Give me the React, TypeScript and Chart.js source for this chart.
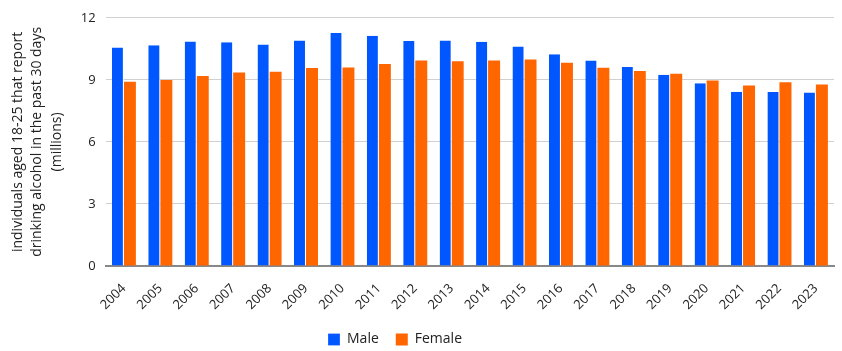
import React, { useEffect, useRef } from "react";
import { Chart, registerables } from "chart.js";

Chart.register(...registerables);

const years = ["2004","2005","2006","2007","2008","2009","2010","2011","2012","2013","2014","2015","2016","2017","2018","2019","2020","2021","2022","2023"];
const male = [10.56,10.67,10.85,10.82,10.71,10.9,11.26,11.13,10.88,10.9,10.84,10.61,10.24,9.94,9.62,9.25,8.83,8.42,8.41,8.39];
const female = [8.91,8.99,9.18,9.36,9.39,9.57,9.6,9.77,9.93,9.9,9.94,9.98,9.83,9.59,9.43,9.3,8.97,8.73,8.88,8.78];
const yTicks = [0, 3, 6, 9, 12];
const yTitle = ["individuals aged 18-25 that report", "drinking alcohol in the past 30 days", "(millions)"];

const FONT = "'Open Sans', 'DejaVu Sans', sans-serif";

const shiftLegend = {
  id: "shiftLegend",
  afterLayout(chart: any) {
    const l = chart.legend;
    if (l) {
      const h = l.bottom - l.top;
      l.left -= 28;
      l.right -= 28;
      l.top = 336 - h / 2;
      l.bottom = l.top + h;
    }
  },
};

export default function App() {
  const ref = useRef<HTMLCanvasElement | null>(null);
  useEffect(() => {
    if (!ref.current) return;
    const chart = new Chart(ref.current, {
      type: "bar",
      data: {
        labels: years,
        datasets: [
          { label: "Male", data: male, backgroundColor: "#0057ff", borderColor: "#ffffff", borderWidth: { left: 0, right: 1, top: 0, bottom: 0 } as any, borderSkipped: false as any },
          { label: "Female", data: female, backgroundColor: "#ff6600", borderColor: "#ffffff", borderWidth: 0 },
        ],
      },
      options: {
        animation: false,
        responsive: false,
        maintainAspectRatio: false,
        layout: { padding: { left: 8, right: 4, top: 5, bottom: -18 } },
        datasets: { bar: { categoryPercentage: 0.66, barPercentage: 1.0 } } as any,
        plugins: {
          legend: {
            position: "bottom",
            labels: {
              font: { family: FONT, size: 14 },
              color: "#222",
              boxWidth: 12,
              boxHeight: 12,
              padding: 17,
            },
          },
          tooltip: { enabled: false },
        },
        scales: {
          x: {
            grid: { display: false, drawTicks: false },
            border: { display: true, color: "#888", width: 2 },
            ticks: {
              font: { family: FONT, size: 13 },
              color: "#222",
              minRotation: 45,
              maxRotation: 45,
              padding: 15,
            },
          },
          y: {
            min: 0,
            max: 12,
            afterBuildTicks: (axis: any) => {
              axis.ticks = yTicks.map((v) => ({ value: v }));
            },
            grid: { color: "#d0d0d0", lineWidth: 1, drawTicks: false },
            border: { display: false },
            ticks: {
              font: { family: FONT, size: 13 },
              color: "#222",
              padding: 10,
            },
            title: {
              display: true,
              text: yTitle,
              font: { family: FONT, size: 14, lineHeight: 1.4 },
              color: "#222",
              padding: { top: 0, bottom: 4 },
            },
          },
        },
      },
      plugins: [shiftLegend],
    });
    return () => chart.destroy();
  }, []);
  return (
    <div style={{ position: "fixed", left: 0, top: 0, width: 842, height: 351, background: "#fff" }}>
      <canvas ref={ref} width={842} height={351} style={{ width: 842, height: 351 }} />
    </div>
  );
}
